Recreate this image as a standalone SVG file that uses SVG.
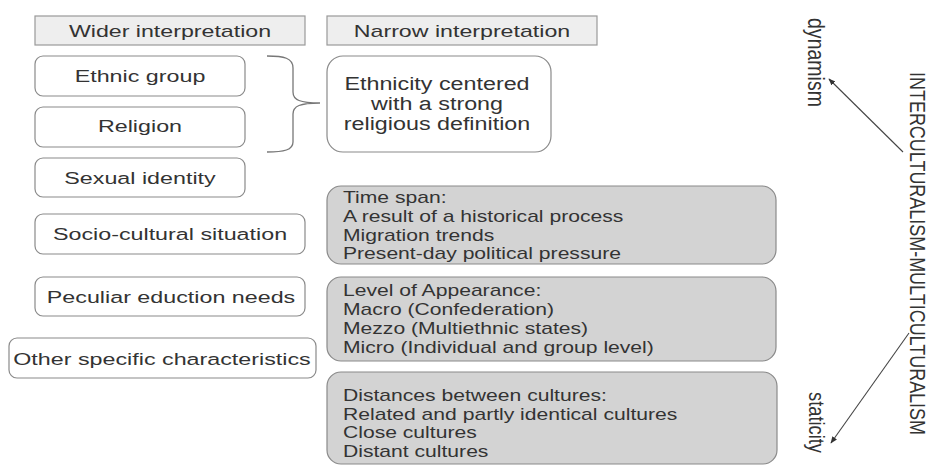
<svg xmlns="http://www.w3.org/2000/svg" width="935" height="466" viewBox="0 0 935 466">
<style>
text{font-family:"Liberation Sans",Arial,sans-serif;fill:#333}
.hdr{fill:#eeeeee;stroke:#999;stroke-width:1.2}
.wb{fill:#fff;stroke:#8a8a8a;stroke-width:1.2}
.gb{fill:#d3d3d3;stroke:#8a8a8a;stroke-width:1.2}
.h{font-size:16px;text-anchor:middle}
.w{font-size:17px;text-anchor:middle}
.e{font-size:19px;text-anchor:middle}
.g{font-size:16px}
.r{font-family:"Liberation Sans",Arial,sans-serif;fill:#333}
.conn{fill:none;stroke:#444;stroke-width:1.1}
.brace{fill:none;stroke:#777;stroke-width:1.3}
</style>
<defs>
<marker id="ah" viewBox="0 0 10 10" refX="9" refY="5" markerWidth="7" markerHeight="7" orient="auto" markerUnits="userSpaceOnUse">
<path d="M0,1 L10,5 L0,9 Z" fill="#333"/>
</marker>
</defs>

<g id="hdr-wider">
<rect class="hdr" x="35" y="16" width="270" height="29"/>
<g transform="translate(170,37) scale(1.45,1)"><text class="h" x="0" y="0">Wider interpretation</text></g>
</g>
<g id="hdr-narrow">
<rect class="hdr" x="327" y="16" width="270" height="29"/>
<g transform="translate(462,37) scale(1.45,1)"><text class="h" x="0" y="0">Narrow interpretation</text></g>
</g>

<g id="ethnic">
<rect class="wb" x="35" y="56" width="210" height="40" rx="8"/>
<g transform="translate(140,82) scale(1.37,1)"><text class="w" x="0" y="0">Ethnic group</text></g>
</g>
<g id="religion">
<rect class="wb" x="35" y="107" width="210" height="40" rx="8"/>
<g transform="translate(140,132) scale(1.37,1)"><text class="w" x="0" y="0">Religion</text></g>
</g>
<g id="sexual">
<rect class="wb" x="35" y="158" width="210" height="39" rx="8"/>
<g transform="translate(140,184) scale(1.37,1)"><text class="w" x="0" y="0">Sexual identity</text></g>
</g>
<g id="socio">
<rect class="wb" x="35" y="214" width="270" height="40" rx="8"/>
<g transform="translate(170,240) scale(1.37,1)"><text class="w" x="0" y="0">Socio-cultural situation</text></g>
</g>
<g id="peculiar">
<rect class="wb" x="35" y="277" width="270" height="39" rx="8"/>
<g transform="translate(171,303) scale(1.37,1)"><text class="w" x="0" y="0">Peculiar eduction needs</text></g>
</g>
<g id="other">
<rect class="wb" x="9" y="338" width="307" height="40" rx="8"/>
<g transform="translate(162,365) scale(1.37,1)"><text class="w" x="0" y="0">Other specific characteristics</text></g>
</g>

<g id="ethnicity-centered">
<rect class="wb" x="327" y="56" width="224" height="96" rx="16"/>
<g transform="translate(437,0) scale(1.226,1)">
<text class="e" x="0" y="90">Ethnicity centered</text>
<text class="e" x="0" y="110">with a strong</text>
<text class="e" x="0" y="130">religious definition</text>
</g>
</g>

<g id="time-span">
<rect class="gb" x="327" y="186" width="449" height="78" rx="14"/>
<g transform="translate(343,0) scale(1.32,1)">
<text class="g" x="0" y="203">Time span:</text>
<text class="g" x="0" y="222">A result of a historical process</text>
<text class="g" x="0" y="241">Migration trends</text>
<text class="g" x="0" y="259.5">Present-day political pressure</text>
</g>
</g>
<g id="level">
<rect class="gb" x="327" y="277" width="449" height="84" rx="14"/>
<g transform="translate(343,0) scale(1.32,1)">
<text class="g" x="0" y="296">Level of Appearance:</text>
<text class="g" x="0" y="315">Macro (Confederation)</text>
<text class="g" x="0" y="334">Mezzo (Multiethnic states)</text>
<text class="g" x="0" y="353">Micro (Individual and group level)</text>
</g>
</g>
<g id="distances">
<rect class="gb" x="327" y="372" width="450" height="92" rx="14"/>
<g transform="translate(343,0) scale(1.32,1)">
<text class="g" x="0" y="401">Distances between cultures:</text>
<text class="g" x="0" y="420">Related and partly identical cultures</text>
<text class="g" x="0" y="438.5">Close cultures</text>
<text class="g" x="0" y="457">Distant cultures</text>
</g>
</g>

<g id="dynamism">
<text class="r" transform="translate(808,18) rotate(90)" x="0" y="0" font-size="24" textLength="89" lengthAdjust="spacingAndGlyphs">dynamism</text>
</g>
<g id="staticity">
<text class="r" transform="translate(809,392) rotate(90)" x="0" y="0" font-size="22" textLength="61" lengthAdjust="spacingAndGlyphs">staticity</text>
</g>
<g id="inter-multi">
<text class="r" transform="translate(910,72) rotate(90)" x="0" y="0" font-size="22" textLength="363" lengthAdjust="spacingAndGlyphs">INTERCULTURALISM-MULTICULTURALISM</text>
</g>

<g id="connectors">
<path class="brace" d="M267,56 C284,56 293,58 293,68 L293,92 C293,100 300,103 320,103 C300,103 293,106 293,114 L293,142 C293,150 284,152 267,152"/>
<line class="conn" x1="903" y1="152" x2="829" y2="79" marker-end="url(#ah)"/>
<line class="conn" x1="909" y1="333" x2="831" y2="443" marker-end="url(#ah)"/>
</g>
</svg>
